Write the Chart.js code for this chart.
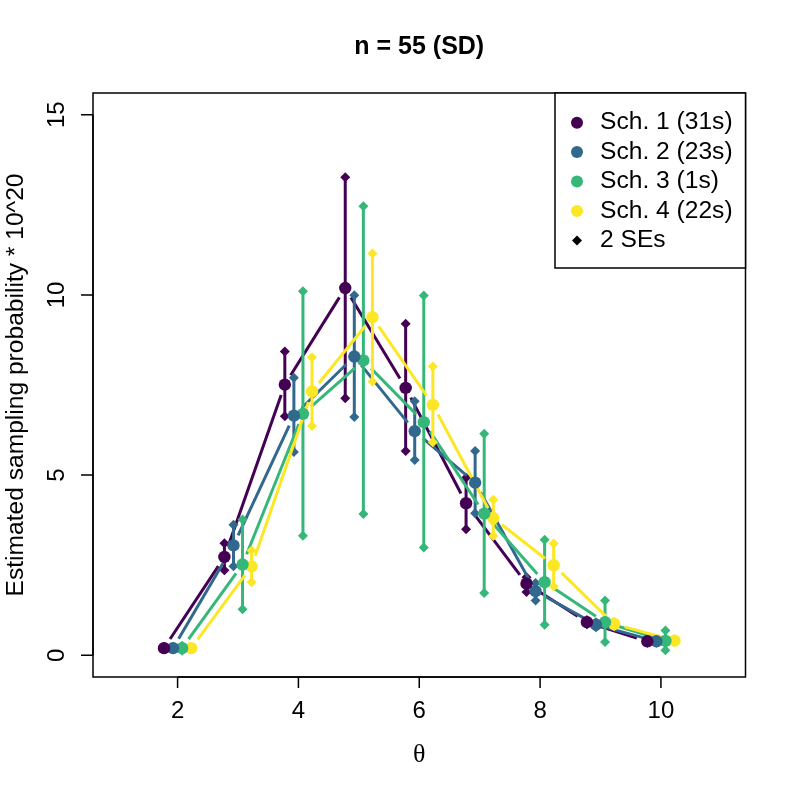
<!DOCTYPE html>
<html>
<head>
<meta charset="utf-8">
<script src="https://cdn.jsdelivr.net/npm/chart.js@4.4.1/dist/chart.umd.min.js"></script>
<style>
  body { margin: 0; background: #fff; }
  canvas { display: block; }
</style>
</head>
<body>
<canvas id="myChart" width="793" height="793"></canvas>
<script>
// theta values and per-scheme x offsets
const thetas = [2, 3, 4, 5, 6, 7, 8, 9, 10];
const offsets = [-0.225, -0.075, 0.075, 0.225];
const schemeNames = ["Sch. 1 (31s)", "Sch. 2 (23s)", "Sch. 3 (1s)", "Sch. 4 (22s)"];
const schemeColors = ["#440154", "#31688E", "#35B779", "#FDE725"];

// estimated sampling probability * 10^20
const est1 = [0.20, 2.73, 7.51, 10.19, 7.42, 4.22, 1.99, 0.92, 0.39];
const est2 = [0.20, 3.05, 6.65, 8.29, 6.22, 4.79, 1.78, 0.85, 0.39];
const est3 = [0.20, 2.52, 6.70, 8.18, 6.47, 3.93, 2.03, 0.92, 0.40];
const est4 = [0.20, 2.47, 7.32, 9.38, 6.95, 3.81, 2.50, 0.87, 0.41];

// 2 SE bounds
const lo1 = [0.17, 2.36, 6.63, 7.13, 5.67, 3.50, 1.76, 0.86, 0.35];
const hi1 = [0.23, 3.11, 8.43, 13.26, 9.20, 4.93, 2.17, 0.98, 0.43];
const lo2 = [0.17, 2.47, 5.64, 6.61, 5.42, 3.94, 1.52, 0.78, 0.35];
const hi2 = [0.23, 3.62, 7.70, 9.99, 7.05, 5.67, 2.01, 0.92, 0.43];
const lo3 = [0.13, 1.28, 3.32, 3.92, 2.99, 1.73, 0.85, 0.37, 0.14];
const hi3 = [0.27, 3.77, 10.10, 12.46, 9.98, 6.15, 3.21, 1.52, 0.69];
const lo4 = [0.18, 2.03, 6.36, 7.60, 5.91, 3.31, 1.91, 0.81, 0.37];
const hi4 = [0.22, 2.91, 8.27, 11.15, 8.01, 4.32, 3.10, 0.93, 0.45];

const xTicks = [2, 4, 6, 8, 10];
const yTicks = [0, 5, 10, 15];

const ests = [est1, est2, est3, est4];
const lows = [lo1, lo2, lo3, lo4];
const highs = [hi1, hi2, hi3, hi4];

const FONT = '"Liberation Sans", Arial, Helvetica, sans-serif';

function diamond(ctx, x, y, r) {
    ctx.beginPath();
    ctx.moveTo(x, y - r);
    ctx.lineTo(x + r, y);
    ctx.lineTo(x, y + r);
    ctx.lineTo(x - r, y);
    ctx.closePath();
    ctx.fill();
}

// lines with gaps (like R type="b") and error bars, under the points
const linesAndBars = {
    id: "linesAndBars",
    beforeDatasetsDraw(chart) {
        const ctx = chart.ctx;
        const xs = chart.scales.x, ys = chart.scales.y;
        const gap = 11;
        ctx.save();
        for (let s = 0; s < ests.length; s++) {
            ctx.strokeStyle = schemeColors[s];
            ctx.fillStyle = schemeColors[s];
            ctx.lineWidth = 3;
            ctx.lineCap = "butt";
            const pts = thetas.map((t, i) => [
                xs.getPixelForValue(t + offsets[s]),
                ys.getPixelForValue(ests[s][i]),
            ]);
            for (let i = 0; i < pts.length - 1; i++) {
                const [x0, y0] = pts[i];
                const [x1, y1] = pts[i + 1];
                const dx = x1 - x0, dy = y1 - y0;
                const len = Math.sqrt(dx * dx + dy * dy);
                if (len <= 2 * gap) continue;
                const ux = dx / len, uy = dy / len;
                ctx.beginPath();
                ctx.moveTo(x0 + ux * gap, y0 + uy * gap);
                ctx.lineTo(x1 - ux * gap, y1 - uy * gap);
                ctx.stroke();
            }
            // error bars
            thetas.forEach((t, i) => {
                const px = xs.getPixelForValue(t + offsets[s]);
                const pl = ys.getPixelForValue(lows[s][i]);
                const ph = ys.getPixelForValue(highs[s][i]);
                ctx.beginPath();
                ctx.moveTo(px, pl);
                ctx.lineTo(px, ph);
                ctx.stroke();
                diamond(ctx, px, pl, 5);
                diamond(ctx, px, ph, 5);
            });
        }
        ctx.restore();
    },
};

// R-style box, axes, titles and legend
const rFrame = {
    id: "rFrame",
    afterDraw(chart) {
        const ctx = chart.ctx;
        const a = chart.chartArea;
        const xs = chart.scales.x, ys = chart.scales.y;
        ctx.save();
        ctx.strokeStyle = "#000";
        ctx.fillStyle = "#000";
        ctx.lineWidth = 1.5;
        ctx.strokeRect(a.left, a.top, a.right - a.left, a.bottom - a.top);

        // x axis
        ctx.beginPath();
        ctx.moveTo(xs.getPixelForValue(xTicks[0]), a.bottom);
        ctx.lineTo(xs.getPixelForValue(xTicks[xTicks.length - 1]), a.bottom);
        xTicks.forEach((t) => {
            const px = xs.getPixelForValue(t);
            ctx.moveTo(px, a.bottom);
            ctx.lineTo(px, a.bottom + 11);
        });
        ctx.stroke();
        ctx.font = "24px " + FONT;
        ctx.textAlign = "center";
        ctx.textBaseline = "middle";
        xTicks.forEach((t) => {
            ctx.fillText(String(t), xs.getPixelForValue(t), 711);
        });

        // y axis
        ctx.beginPath();
        ctx.moveTo(a.left, ys.getPixelForValue(yTicks[0]));
        ctx.lineTo(a.left, ys.getPixelForValue(yTicks[yTicks.length - 1]));
        yTicks.forEach((t) => {
            const py = ys.getPixelForValue(t);
            ctx.moveTo(a.left, py);
            ctx.lineTo(a.left - 12, py);
        });
        ctx.stroke();
        yTicks.forEach((t) => {
            ctx.save();
            ctx.translate(57, ys.getPixelForValue(t));
            ctx.rotate(-Math.PI / 2);
            ctx.fillText(String(t), 0, 0);
            ctx.restore();
        });

        // title
        ctx.font = "bold 25px " + FONT;
        ctx.fillText("n = 55 (SD)", (a.left + a.right) / 2, 47);

        // axis labels
        ctx.font = '26px "Liberation Serif", "DejaVu Serif", serif';
        ctx.fillText("θ", (a.left + a.right) / 2, 755);
        ctx.font = "24.6px " + FONT;
        ctx.save();
        ctx.translate(16, (a.top + a.bottom) / 2);
        ctx.rotate(-Math.PI / 2);
        ctx.fillText("Estimated sampling probability * 10^20", 0, 0);
        ctx.restore();

        // legend
        const lx = 555, ly = a.top, lw = a.right - 555, lh = 175;
        ctx.fillStyle = "#fff";
        ctx.fillRect(lx, ly, lw, lh);
        ctx.strokeRect(lx, ly, lw, lh);
        ctx.textAlign = "left";
        ctx.font = "24.6px " + FONT;
        const rowY = [122.7, 152, 181.5, 211, 240.5];
        schemeNames.forEach((name, i) => {
            ctx.fillStyle = schemeColors[i];
            ctx.beginPath();
            ctx.arc(577, rowY[i], 6, 0, Math.PI * 2);
            ctx.fill();
            ctx.fillStyle = "#000";
            ctx.fillText(name, 600, rowY[i]);
        });
        ctx.fillStyle = "#000";
        diamond(ctx, 577, rowY[4], 5);
        ctx.fillText("2 SEs", 600, rowY[4]);
        ctx.restore();
    },
};

const datasets = ests.map((e, s) => ({
    label: schemeNames[s],
    data: thetas.map((t, i) => ({ x: t + offsets[s], y: e[i] })),
    backgroundColor: schemeColors[s],
    borderColor: schemeColors[s],
    borderWidth: 0,
    pointRadius: 6.2,
    pointHoverRadius: 6.2,
    showLine: false,
}));

const ctx = document.getElementById("myChart");
new Chart(ctx, {
    type: "scatter",
    data: { datasets: datasets },
    options: {
        responsive: false,
        animation: false,
        devicePixelRatio: 1,
        layout: { padding: { left: 93, right: 47.5, top: 93, bottom: 116 } },
        plugins: {
            legend: { display: false },
            tooltip: { enabled: false },
            title: { display: false },
        },
        scales: {
            x: { type: "linear", display: false, min: 0.6, max: 11.4 },
            y: { type: "linear", display: false, min: -0.6, max: 15.6 },
        },
    },
    plugins: [linesAndBars, rFrame],
});
</script>
</body>
</html>
